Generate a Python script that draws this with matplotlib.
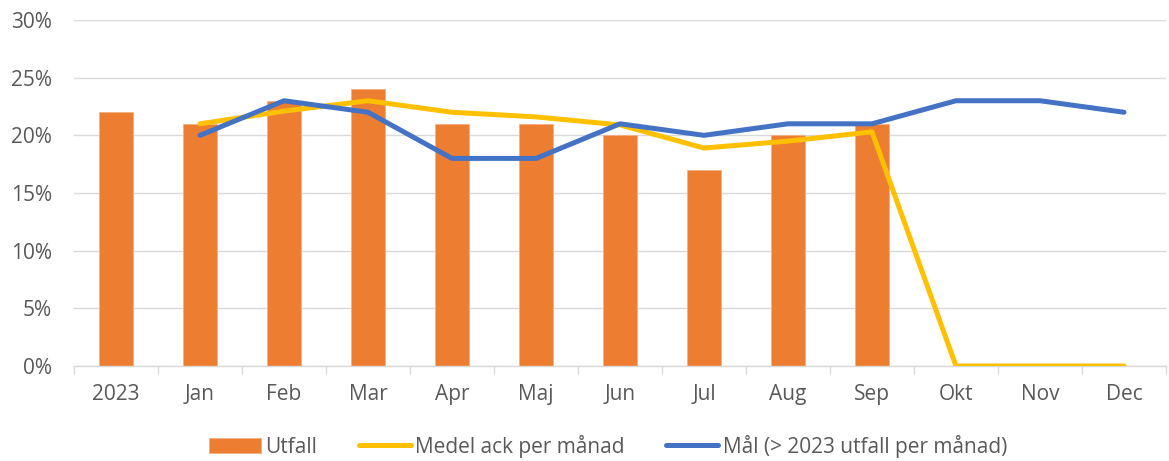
import matplotlib
matplotlib.use("Agg")
import matplotlib.pyplot as plt
import numpy as np
from matplotlib.ticker import FuncFormatter, FixedLocator

plt.rcParams['font.family'] = ['Open Sans', 'DejaVu Sans']

categories = ["2023", "Jan", "Feb", "Mar", "Apr", "Maj", "Jun", "Jul", "Aug", "Sep", "Okt", "Nov", "Dec"]
utfall = [22, 21, 23, 24, 21, 21, 20, 17, 20, 21, None, None, None]
medel_ack = [None, 21.0, 22.1, 23.0, 22.0, 21.6, 20.9, 18.9, 19.5, 20.3, 0, 0, 0]
mal = [None, 20, 23, 22, 18, 18, 21, 20, 21, 21, 23, 23, 22]

fig = plt.figure(figsize=(11.69, 4.61), dpi=100)
ax = fig.add_axes([74/1169, 1 - 366/461, (1166-74)/1169, (366-20)/461])

x = np.arange(len(categories))
bx = [i for i, v in enumerate(utfall) if v is not None]
bv = [v for v in utfall if v is not None]
h_bar = ax.bar(bx, bv, width=0.40, color='#ED7D31', edgecolor='#F4B183', linewidth=0.6,
               label='Utfall', zorder=2)

mx = [i for i, v in enumerate(medel_ack) if v is not None]
mv = [v for v in medel_ack if v is not None]
h_med, = ax.plot(mx, mv, color='#FFC000', linewidth=3.6, solid_capstyle='round',
                 solid_joinstyle='round', label='Medel ack per månad', zorder=3)

gx = [i for i, v in enumerate(mal) if v is not None]
gv = [v for v in mal if v is not None]
h_mal, = ax.plot(gx, gv, color='#4472C4', linewidth=3.6, solid_capstyle='round',
                 solid_joinstyle='round', label='Mål (> 2023 utfall per månad)', zorder=4)

ax.set_xlim(-0.5, len(categories) - 0.5)
ax.set_ylim(0, 30)
ax.set_yticks(np.arange(0, 31, 5))
ax.yaxis.set_major_formatter(FuncFormatter(lambda v, p: f"{int(v)}%"))
ax.grid(axis='y', color='#D9D9D9', linewidth=1.0, zorder=0)
ax.set_axisbelow(True)

ax.set_xticks(x)
ax.set_xticklabels(categories)
ax.xaxis.set_minor_locator(FixedLocator(np.arange(-0.5, len(categories), 1.0)))
ax.tick_params(axis='x', which='major', length=0, pad=13, labelsize=15, labelcolor='#595959')
ax.tick_params(axis='x', which='minor', length=6, color='#D9D9D9', width=1)
ax.tick_params(axis='y', length=0, pad=16, labelsize=15, labelcolor='#595959')

for s in ['top', 'right', 'left']:
    ax.spines[s].set_visible(False)
ax.spines['bottom'].set_color('#D9D9D9')
ax.spines['bottom'].set_linewidth(1.0)

fig.legend([h_bar, h_med, h_mal],
           ['Utfall', 'Medel ack per månad', 'Mål (> 2023 utfall per månad)'],
           loc='center', bbox_to_anchor=(608/1169, 1 - 446/461), ncol=3, frameon=False,
           fontsize=15, handlelength=2.5, handleheight=0.7, handletextpad=0.2,
           columnspacing=2.0, labelcolor='#595959')

fig.savefig("out.png", dpi=100)
